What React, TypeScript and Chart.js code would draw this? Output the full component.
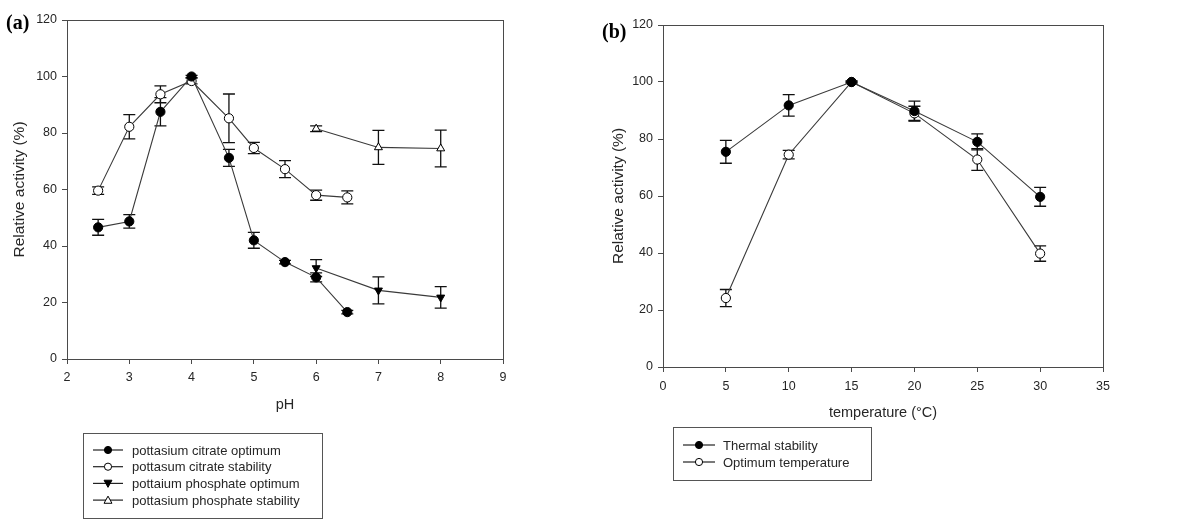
import React, { useEffect, useRef } from 'react';
import { Chart, registerables } from 'chart.js';

Chart.register(...registerables);

// ---------- Panel (a): pH ----------
const phTicks = [2, 3, 4, 5, 6, 7, 8, 9];
const phCitrateOptX = [2.5, 3, 3.5, 4, 4.6, 5, 5.5, 6, 6.5];
const phCitrateOptY = [46.6, 48.7, 87.5, 100, 71.2, 42, 34.3, 28.9, 16.6];
const phCitrateOptErr = [2.8, 2.4, 5, 0.4, 3, 2.8, 0.6, 1.6, 0.6];
const phCitrateStabX = [2.5, 3, 3.5, 4, 4.6, 5, 5.5, 6, 6.5];
const phCitrateStabY = [59.6, 82.2, 93.7, 98.4, 85.2, 74.7, 67.2, 58, 57.2];
const phCitrateStabErr = [1.3, 4.3, 3, 1, 8.6, 2, 3, 1.8, 2.3];
const phPhosOptX = [6, 7, 8];
const phPhosOptY = [32.2, 24.3, 21.8];
const phPhosOptErr = [3, 4.8, 3.8];
const phPhosStabX = [6, 7, 8];
const phPhosStabY = [81.5, 74.9, 74.5];
const phPhosStabErr = [1, 6, 6.5];
const phLabels = [
  'pottasium citrate optimum',
  'pottasum citrate stability',
  'pottaium phosphate optimum',
  'pottasium phosphate stability',
];

// ---------- Panel (b): temperature ----------
const tempTicks = [0, 5, 10, 15, 20, 25, 30, 35];
const tempX = [5, 10, 15, 20, 25, 30];
const thermalStabY = [75.5, 91.8, 100, 89.8, 79, 59.7];
const thermalStabErr = [4, 3.8, 0.3, 3.5, 2.8, 3.3];
const optTempY = [24.2, 74.5, 100, 89, 72.8, 39.8];
const optTempErr = [3, 1.5, 0.3, 2.5, 3.8, 2.7];
const tempLabels = ['Thermal stability', 'Optimum temperature'];

const yTicks = [0, 20, 40, 60, 80, 100, 120];

const FONT = "'Liberation Sans', Arial, Helvetica, sans-serif";
const AXIS_COLOR = '#4a4a4a';
const TEXT_COLOR = '#262626';
const LINE_COLOR = '#3a3a3a';

function pts(xs: number[], ys: number[]) {
  return xs.map((x, i) => ({ x, y: ys[i] }));
}

function drawMarker(ctx: CanvasRenderingContext2D, style: string, rot: number, fill: string, cx: number, cy: number, r: number) {
  ctx.save();
  ctx.fillStyle = fill;
  ctx.strokeStyle = '#000';
  ctx.lineWidth = 1;
  ctx.beginPath();
  if (style === 'triangle') {
    const s = rot === 180 ? -1 : 1;
    const h = r * 1.1;
    ctx.moveTo(cx, cy - s * h);
    ctx.lineTo(cx - h, cy + s * h * 0.8);
    ctx.lineTo(cx + h, cy + s * h * 0.8);
    ctx.closePath();
  } else {
    ctx.arc(cx, cy, r, 0, Math.PI * 2);
  }
  ctx.fill();
  ctx.stroke();
  ctx.restore();
}

const errorBarPlugin = {
  id: 'errorBars',
  beforeDatasetsDraw(chart: any) {
    const { ctx, scales } = chart;
    const xs = scales.x;
    const ys = scales.y;
    ctx.save();
    ctx.strokeStyle = '#111';
    ctx.lineWidth = 1.3;
    chart.data.datasets.forEach((ds: any) => {
      if (!ds.errors) return;
      ds.data.forEach((p: any, i: number) => {
        const e = ds.errors[i];
        if (!e) return;
        const px = xs.getPixelForValue(p.x);
        const y0 = ys.getPixelForValue(p.y - e);
        const y1 = ys.getPixelForValue(p.y + e);
        ctx.beginPath();
        ctx.moveTo(px, y0);
        ctx.lineTo(px, y1);
        ctx.moveTo(px - 6, y0);
        ctx.lineTo(px + 6, y0);
        ctx.moveTo(px - 6, y1);
        ctx.lineTo(px + 6, y1);
        ctx.stroke();
      });
    });
    ctx.restore();
  },
};

const frameLegendPlugin = {
  id: 'frameLegend',
  afterDraw(chart: any, _args: any, opts: any) {
    const { ctx, chartArea } = chart;
    ctx.save();
    // frame box
    ctx.strokeStyle = AXIS_COLOR;
    ctx.lineWidth = 1;
    ctx.strokeRect(chartArea.left + 0.5, chartArea.top + 0.5, chartArea.right - chartArea.left, chartArea.bottom - chartArea.top);
    // panel label
    ctx.fillStyle = '#000';
    ctx.font = "bold 20px 'Liberation Serif', 'Times New Roman', serif";
    ctx.textBaseline = 'middle';
    ctx.textAlign = 'left';
    ctx.fillText(opts.panel, opts.panelX, opts.panelY);
    // legend box
    const b = opts.box;
    ctx.strokeStyle = '#555';
    ctx.lineWidth = 1;
    ctx.strokeRect(b.x + 0.5, b.y + 0.5, b.w, b.h);
    ctx.font = `13px ${FONT}`;
    ctx.fillStyle = TEXT_COLOR;
    chart.data.datasets.forEach((ds: any, i: number) => {
      const cy = opts.rowY + i * opts.rowGap;
      ctx.strokeStyle = '#222';
      ctx.lineWidth = 1.2;
      ctx.beginPath();
      ctx.moveTo(opts.sx0, cy);
      ctx.lineTo(opts.sx1, cy);
      ctx.stroke();
      drawMarker(ctx, ds.pointStyle, ds.pointRotation || 0, ds.pointBackgroundColor, (opts.sx0 + opts.sx1) / 2, cy, 3.6);
      ctx.fillStyle = TEXT_COLOR;
      ctx.textBaseline = 'middle';
      ctx.fillText(ds.label, opts.tx, cy + 1);
    });
    ctx.restore();
  },
};

function makeDataset(label: string, xs: number[], ys: number[], errs: number[], style: string, filled: boolean, rot = 0) {
  return {
    label,
    data: pts(xs, ys),
    errors: errs,
    borderColor: LINE_COLOR,
    borderWidth: 1.1,
    pointStyle: style,
    pointRotation: rot,
    pointRadius: 4.6,
    pointHoverRadius: 4.6,
    pointBackgroundColor: filled ? '#000' : '#fff',
    pointBorderColor: '#000',
    pointBorderWidth: 1,
    fill: false,
    tension: 0,
  };
}

function buildOptions(cfg: any) {
  return {
    responsive: false,
    animation: false,
    devicePixelRatio: 1,
    layout: { padding: cfg.padding },
    plugins: {
      legend: { display: false },
      tooltip: { enabled: false },
      frameLegend: cfg.legend,
    },
    scales: {
      x: {
        type: 'linear',
        min: cfg.xTicks[0],
        max: cfg.xTicks[cfg.xTicks.length - 1],
        afterBuildTicks: (s: any) => {
          s.ticks = cfg.xTicks.map((v: number) => ({ value: v }));
        },
        afterFit: (s: any) => {
          s.height = cfg.xHeight;
        },
        ticks: { color: TEXT_COLOR, font: { family: FONT, size: 12.5 }, padding: cfg.xPad, maxRotation: 0, autoSkip: false },
        grid: { display: true, drawOnChartArea: false, drawTicks: true, tickLength: 5, color: AXIS_COLOR, tickColor: AXIS_COLOR },
        border: { display: true, color: AXIS_COLOR, width: 1 },
        title: { display: true, text: cfg.xTitle, color: TEXT_COLOR, font: { family: FONT, size: 14.5 } },
      },
      y: {
        type: 'linear',
        min: 0,
        max: 120,
        afterBuildTicks: (s: any) => {
          s.ticks = yTicks.map((v: number) => ({ value: v }));
        },
        afterFit: (s: any) => {
          s.width = cfg.yWidth;
        },
        ticks: { color: TEXT_COLOR, font: { family: FONT, size: 12.5 }, padding: 5 },
        grid: { display: true, drawOnChartArea: false, drawTicks: true, tickLength: 5, color: AXIS_COLOR, tickColor: AXIS_COLOR },
        border: { display: true, color: AXIS_COLOR, width: 1 },
        title: { display: true, text: 'Relative activity (%)', color: TEXT_COLOR, font: { family: FONT, size: 15.5 } },
      },
    },
  };
}

function Panel({ left, datasets, cfg }: { left: number; datasets: any[]; cfg: any }) {
  const ref = useRef<HTMLCanvasElement | null>(null);
  useEffect(() => {
    if (!ref.current) return;
    const chart = new Chart(ref.current, {
      type: 'line',
      data: { datasets },
      options: buildOptions(cfg) as any,
      plugins: [errorBarPlugin, frameLegendPlugin],
    });
    return () => chart.destroy();
  }, []);
  return (
    <canvas
      ref={ref}
      width={600}
      height={522}
      style={{ position: 'absolute', left, top: 0, width: 600, height: 522, display: 'block' }}
    />
  );
}

export default function App() {
  const dsA = [
    makeDataset(phLabels[0], phCitrateOptX, phCitrateOptY, phCitrateOptErr, 'circle', true),
    makeDataset(phLabels[1], phCitrateStabX, phCitrateStabY, phCitrateStabErr, 'circle', false),
    makeDataset(phLabels[2], phPhosOptX, phPhosOptY, phPhosOptErr, 'triangle', true, 180),
    makeDataset(phLabels[3], phPhosStabX, phPhosStabY, phPhosStabErr, 'triangle', false),
  ];
  const dsB = [
    makeDataset(tempLabels[0], tempX, thermalStabY, thermalStabErr, 'circle', true),
    makeDataset(tempLabels[1], tempX, optTempY, optTempErr, 'circle', false),
  ];
  const cfgA = {
    padding: { left: 6, right: 97, top: 20, bottom: 104 },
    yWidth: 61,
    xHeight: 59,
    xPad: 6,
    xTicks: phTicks,
    xTitle: 'pH',
    legend: {
      panel: '(a)',
      panelX: 6,
      panelY: 24,
      box: { x: 83, y: 433, w: 239, h: 85 },
      rowY: 450,
      rowGap: 16.7,
      sx0: 93,
      sx1: 123,
      tx: 132,
    },
  };
  const cfgB = {
    padding: { left: 5, right: 97, top: 25, bottom: 96 },
    yWidth: 58,
    xHeight: 59,
    xPad: 7,
    xTicks: tempTicks,
    xTitle: 'temperature (°C)',
    legend: {
      panel: '(b)',
      panelX: 2,
      panelY: 33,
      box: { x: 73, y: 427, w: 198, h: 53 },
      rowY: 445,
      rowGap: 17,
      sx0: 83,
      sx1: 115,
      tx: 123,
    },
  };
  return (
    <div style={{ position: 'absolute', left: 0, top: 0, width: 1200, height: 522, background: '#fff', overflow: 'hidden' }}>
      <Panel left={0} datasets={dsA} cfg={cfgA} />
      <Panel left={600} datasets={dsB} cfg={cfgB} />
    </div>
  );
}
